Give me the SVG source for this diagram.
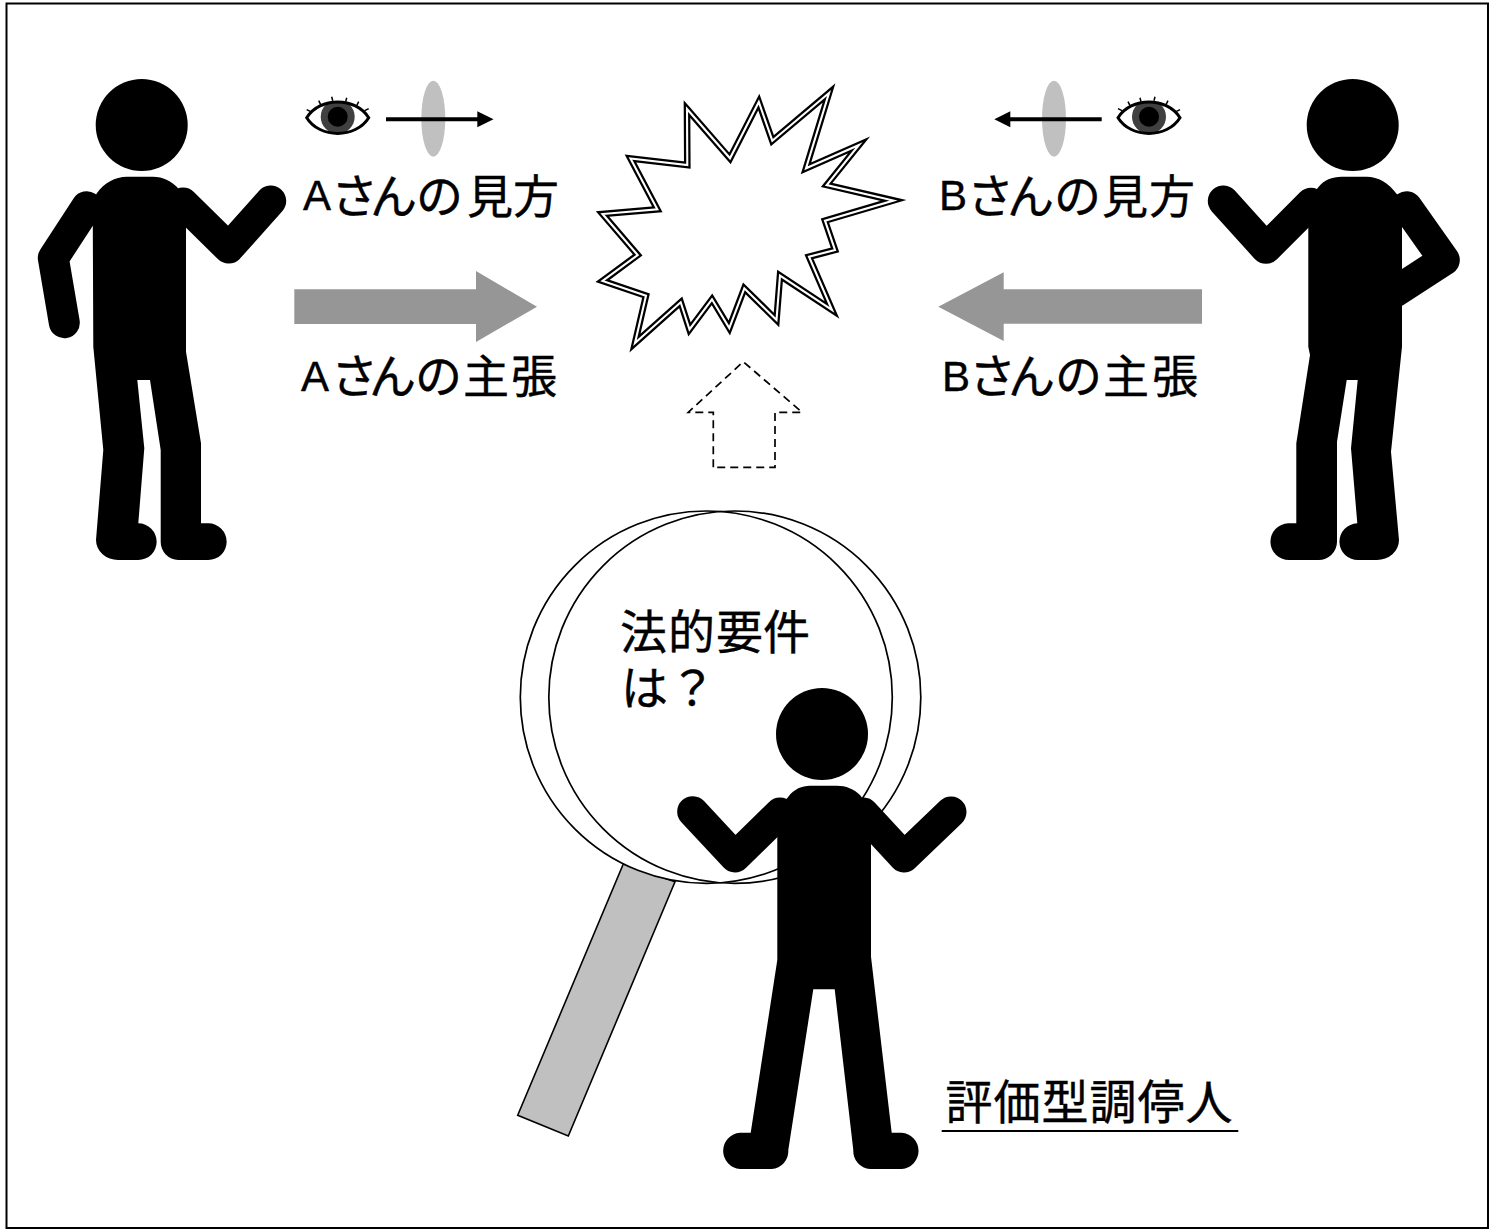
<svg xmlns="http://www.w3.org/2000/svg" xmlns:xlink="http://www.w3.org/1999/xlink" width="1489" height="1229" viewBox="0 0 1489 1229">
<style>
text{font-family:"Liberation Sans","Noto Sans CJK JP",sans-serif;fill:#000;stroke:#000;stroke-width:.4}
.kana{font-size:47px}
.kanji{font-size:46px}
.lat{font-size:42px}
.big{font-size:47px}
.limb{fill:none;stroke:#000;stroke-width:31;stroke-linecap:round;stroke-linejoin:round}
.lens{fill:#c0c0c0}
.big-arrow{fill:#969696}
.thin{stroke:#000;stroke-width:4;fill:none}
.glass{fill:none;stroke:#000;stroke-width:1.7}
</style>
<defs>
<clipPath id="eyeclip"><path d="M-31,0 C-18,-21 18,-21 31,0 C18,21 -18,21 -31,0Z"/></clipPath>
<g id="eye">
<path d="M-31,0 C-18,-21 18,-21 31,0 C18,21 -18,21 -31,0Z" fill="#fff"/>
<circle cx="0" cy="-1" r="17" fill="#404040" clip-path="url(#eyeclip)"/>
<circle cx="0" cy="-1" r="10" fill="#000"/>
<path d="M-31,0 C-18,-21 18,-21 31,0 C18,21 -18,21 -31,0Z" fill="none" stroke="#000" stroke-width="3"/>
<path d="M-31,-8 L-27,-6 M-19,-17 L-17,-13 M-6,-21 L-5,-17 M9,-20 L8,-16 M21,-16 L19,-12 M31,-9 L27,-7" stroke="#000" stroke-width="1.5" fill="none"/>
</g>
</defs>
<rect x="6.5" y="3.5" width="1481.5" height="1224.5" fill="#fff" stroke="#000" stroke-width="2"/>

<g id="magnifier">
<path d="M623.3,864 L675,881.7 L568.3,1136 L517.7,1115.3Z" fill="#c0c0c0" stroke="#000" stroke-width="1.6"/>
<ellipse cx="734.8" cy="697.2" rx="186" ry="186.2" fill="#fff"/>
<ellipse cx="706.3" cy="697.2" rx="186" ry="186.2" fill="#fff"/>
<ellipse class="glass" cx="734.8" cy="697.2" rx="186" ry="186.2"/>
<ellipse class="glass" cx="706.3" cy="697.2" rx="186" ry="186.2"/>
<text class="big"><tspan x="620 668 716 763" y="649">法的要件</tspan></text>
<text class="big"><tspan x="621 669" y="705">は？</tspan></text>
</g>

<g id="person-a">
<circle cx="141.7" cy="125" r="46"/>
<path d="M97,193 C104,183 115,176.7 127,176.7 H153 C163,176.7 171,181 177,187 L186,200 V346.7 L186,351.7 L201,443.3 V523.3 H208.3 A18.3,18.3 0 0 1 208.3,560 H178.3 A18,18 0 0 1 160.7,541.7 V450 L150,380 H137.3 L144.3,448.3 L138.3,523.3 A18.3,18.3 0 0 1 138.3,560 H118.3 A22,20 0 0 1 96,540 L103.3,450 L93.3,346.7 L92.7,200Z"/>
<path class="limb" d="M86.7,206.7 L53.3,258 L64.3,322.7"/>
<path class="limb" d="M183,203 L228.7,248 L270.7,201"/>
</g>

<g id="person-b">
<circle cx="1352.7" cy="125" r="46"/>
<path d="M1318.3,187.3 C1324,180 1332,176.7 1341.7,176.7 H1366.7 C1378,176.7 1389,183 1396.7,194 L1402,200 V346.7 L1391,451.7 L1399,540 A22,20 0 0 1 1376.7,560 H1358.3 A18.3,18.3 0 0 1 1357.3,523.3 L1351,448.3 L1357.7,380 H1346.7 L1337,441.7 V541.7 A18.3,18.3 0 0 1 1318.3,560 H1289.3 A18.3,18.3 0 0 1 1288.3,523.3 H1296.3 V443.3 L1310,355 L1308.3,346.7 V200Z"/>
<path class="limb" d="M1311,203.3 L1266,248.3 L1223.3,201"/>
<path class="limb" d="M1406.7,206.7 L1444.3,260 L1395,292"/>
</g>

<g id="person-c">
<circle cx="822" cy="734" r="46"/>
<path d="M788.3,796.7 C794,789 802,785.7 810,785.7 H836.7 C846,785.7 854,789 860,795 L871,810 V956.7 L891.7,1132.7 H901.7 A18.2,18.2 0 0 1 901.7,1169 H870 A18,18 0 0 1 853.3,1150 L834.7,989.3 H813.3 L788.3,1150 A18,18 0 0 1 771.7,1169 H740 A18.2,18.2 0 0 1 740,1132.7 H750.7 L777.3,960 V810Z"/>
<path class="limb" d="M780,813 L735,857 L692.7,811.7"/>
<path class="limb" d="M863.3,813 L904,857 L951,812"/>
</g>

<g id="burst">
<path d="M687,109 L730,158.3 L758.8,102 L772.3,140.7 L829,93 L806,168.3 L859,145 L826.7,185 L893.5,200.5 L825,220.7 L835,250 L809,256.7 L832,310 L780,275.7 L776.5,320 L744.3,288.3 L729.3,328 L712,299.3 L689.5,329.5 L680.7,302.3 L635,343 L646,295.7 L602.5,281 L637.7,255 L602.5,214 L657.3,209.3 L630.5,158.5 L687.3,165Z" fill="#fff" stroke="#000" stroke-width="6.6" stroke-miterlimit="30"/>
<path d="M687,109 L730,158.3 L758.8,102 L772.3,140.7 L829,93 L806,168.3 L859,145 L826.7,185 L893.5,200.5 L825,220.7 L835,250 L809,256.7 L832,310 L780,275.7 L776.5,320 L744.3,288.3 L729.3,328 L712,299.3 L689.5,329.5 L680.7,302.3 L635,343 L646,295.7 L602.5,281 L637.7,255 L602.5,214 L657.3,209.3 L630.5,158.5 L687.3,165Z" fill="none" stroke="#fff" stroke-width="2.1" stroke-miterlimit="30"/>
</g>

<g id="view-a">
<use xlink:href="#eye" href="#eye" transform="translate(337.7 117.7)"/>
<ellipse class="lens" cx="433.3" cy="118.7" rx="12" ry="38"/>
<text><tspan class="lat" x="303" y="210">A</tspan><tspan class="kana" x="331 370 416" y="213">さんの</tspan><tspan class="kanji" x="467 513" y="213">見方</tspan></text>
</g>
<g id="view-b">
<use xlink:href="#eye" href="#eye" transform="translate(1149 117.7) scale(-1 1)"/>
<ellipse class="lens" cx="1054" cy="118.7" rx="12" ry="38"/>
<text><tspan class="lat" x="939" y="210">B</tspan><tspan class="kana" x="967 1007 1054" y="213">さんの</tspan><tspan class="kanji" x="1102 1149" y="213">見方</tspan></text>
</g>
<g id="claim-a">
<text><tspan class="lat" x="301" y="391">A</tspan><tspan class="kana" x="331 369 415" y="393">さんの</tspan><tspan class="kanji" x="463 511" y="393">主張</tspan></text>
</g>
<g id="claim-b">
<text><tspan class="lat" x="942" y="391">B</tspan><tspan class="kana" x="969 1008 1055" y="393">さんの</tspan><tspan class="kanji" x="1103 1152" y="393">主張</tspan></text>
</g>
<g id="mediator-label">
<text class="big"><tspan x="945.5 993.5 1041.5 1089.5 1137.5 1185.5" y="1119">評価型調停人</tspan></text>
<line x1="941.7" y1="1131" x2="1238.3" y2="1131" stroke="#000" stroke-width="2"/>
</g>

<g id="connectors">
<path class="thin" d="M386,119.3 H480"/>
<path d="M477.3,111.3 L493.5,119.3 L477.3,127.3Z"/>
<path class="thin" d="M1101.7,119.3 H1008"/>
<path d="M1010.3,111.3 L994.3,119.3 L1010.3,127.3Z"/>
<path class="big-arrow" d="M294.3,289.3 H476 V271 L537,306.7 L476,342 V324 H294.3Z"/>
<path class="big-arrow" d="M1202,289.3 H1003.7 V272.3 L938.3,306.7 L1003.7,341 V323.7 H1202Z"/>
<path d="M713.3,467.3 V412.3 H688.3 L743.3,361.7 L802,412.3 H775 V467.3Z" fill="none" stroke="#000" stroke-width="1.7" stroke-dasharray="8 5"/>
</g>
</svg>
